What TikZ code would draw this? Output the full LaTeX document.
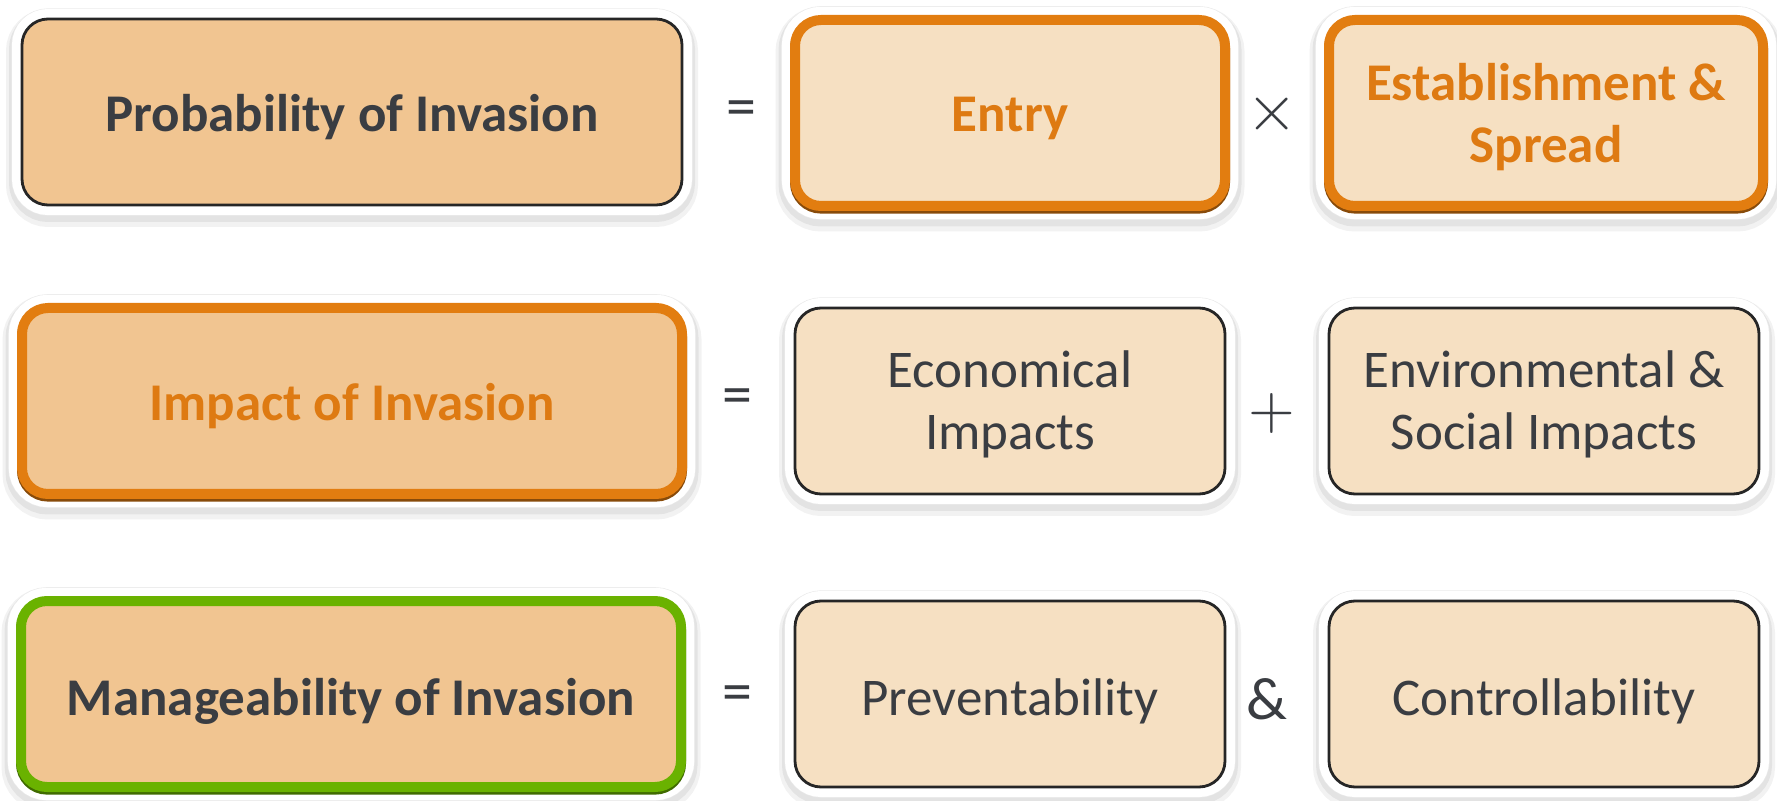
\documentclass[tikz,border=0pt]{standalone}
\usepackage{fontspec}
\usepackage{graphicx}
\setmainfont{Carlito}
\definecolor{txt}{HTML}{3A3D42}
\definecolor{otxt}{HTML}{DE7A12}
\definecolor{tanfill}{HTML}{F1C591}
\definecolor{cream}{HTML}{F6E0C2}
\definecolor{orangeB}{HTML}{E27D10}
\definecolor{greenB}{HTML}{6AB200}
\begin{document}
\begin{tikzpicture}[x=0.5pt,y=-0.5pt,
 boxbase/.style={rectangle, rounded corners=13pt, inner sep=0pt},
 thinbox/.style={boxbase, draw=black!85, line width=1.4pt,
   preaction={draw=black, opacity=0.05, line width=16pt, transform canvas={yshift=-3pt}},
   preaction={draw=black, opacity=0.06, line width=13pt, transform canvas={yshift=-2pt}},
   preaction={draw=black!8, line width=10.6pt},
   preaction={draw=white, line width=10pt}},
 thickbox/.style={boxbase, draw=#1, line width=5pt,
   preaction={draw=black, opacity=0.05, line width=19.5pt, transform canvas={yshift=-3pt}},
   preaction={draw=black, opacity=0.06, line width=16.5pt, transform canvas={yshift=-2pt}},
   preaction={draw=black!8, line width=13.8pt},
   preaction={draw=white, line width=13.2pt},
   preaction={draw=#1!60!black, line width=5pt, transform canvas={yshift=-1.3pt}}},
 leftsize/.style={minimum width=330pt, minimum height=93pt},
 colsize/.style={minimum width=215pt, minimum height=93pt},
 label/.style={align=center, inner sep=0pt, text=txt, font=\fontsize{26.5}{31}\selectfont},
 boldlabel/.style={label, font=\fontsize{26.5}{31}\selectfont\bfseries},
 op/.style={text=txt, inner sep=0pt}
]
\fill[white] (0,0) rectangle (1777,801);
\useasboundingbox (0,0) rectangle (1777,801);

% Row 1
\node[thinbox, leftsize, fill=tanfill] (prob) at (352,112) {};
\node[thickbox=orangeB, colsize, fill=cream] (entry) at (1010,113) {};
\node[thickbox=orangeB, colsize, fill=cream, minimum width=217pt] (estab) at (1546,113) {};
\node[boldlabel] (probt) at ([yshift=-2.5pt]prob.center) {Probability of Invasion};
\node[boldlabel, text=otxt] (entryt) at ([yshift=-2.5pt]entry.center) {Entry};
\node[boldlabel, text=otxt] (estabt) at ([yshift=-2pt]estab.center) {Establishment \&\\Spread};
\node[op, font=\fontsize{30}{30}\selectfont] (eq1) at (741,114) {=};
\node[op] (times) at (1272,114) {\scalebox{3.3}{$\times$}};

% Row 2
\node[thickbox=orangeB, leftsize, fill=tanfill] (impact) at (352,401) {};
\node[thinbox, colsize, fill=cream] (econ) at (1010,401) {};
\node[thinbox, colsize, fill=cream] (env) at (1544,401) {};
\node[boldlabel, text=otxt] (impactt) at ([yshift=-2.5pt]impact.center) {Impact of Invasion};
\node[label] (econt) at ([yshift=-1.5pt]econ.center) {Economical\\Impacts};
\node[label] (envt) at ([yshift=-1.5pt]env.center) {Environmental \&\\Social Impacts};
\node[op, font=\fontsize{30}{30}\selectfont] (eq2) at (737,402) {=};
\node[op] (plus) at (1272,414) {\scalebox{3}{$+$}};

% Row 3
\node[thickbox=greenB, leftsize, fill=tanfill] (manage) at (351,694) {};
\node[thinbox, colsize, fill=cream] (prev) at (1010,694) {};
\node[thinbox, colsize, fill=cream] (ctrl) at (1544,694) {};
\node[boldlabel] (managet) at ([yshift=-3.5pt]manage.center) {Manageability of Invasion};
\node[label] (prevt) at ([yshift=-3.5pt]prev.center) {Preventability};
\node[label] (ctrlt) at ([yshift=-3.5pt]ctrl.center) {Controllability};
\node[op, font=\fontsize{30}{30}\selectfont] (eq3) at (737,699) {=};
\node[op, font=\fontsize{30}{30}\selectfont\rmfamily] (amp) at (1267,699) {$\&$};
\end{tikzpicture}
\end{document}
